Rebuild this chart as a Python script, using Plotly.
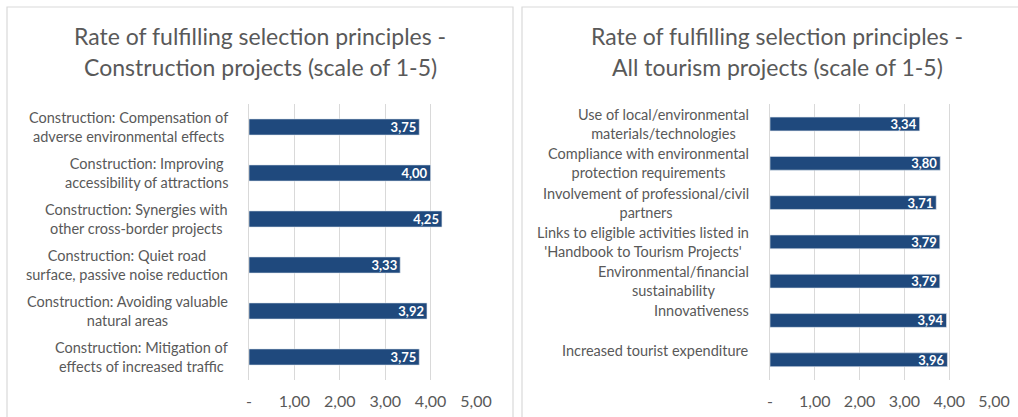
import plotly.graph_objects as go

W, H = 1018, 417

# Left chart: construction projects
construction_labels = [
    "Construction: Compensation of<br>adverse environmental effects",
    "Construction: Improving<br>accessibility of attractions",
    "Construction: Synergies with<br>other cross-border projects",
    "Construction: Quiet road<br>surface, passive noise reduction",
    "Construction: Avoiding valuable<br>natural areas",
    "Construction: Mitigation of<br>effects of increased traffic",
]
construction_values = [3.75, 4.00, 4.25, 3.33, 3.92, 3.75]

# Right chart: all tourism projects
tourism_labels = [
    "Use of local/environmental<br>materials/technologies",
    "Compliance with environmental<br>protection requirements",
    "Involvement of professional/civil<br>partners",
    "Links to eligible activities listed in<br>'Handbook to Tourism Projects'",
    "Environmental/financial<br>sustainability",
    "Innovativeness",
    "Increased tourist expenditure",
]
tourism_values = [3.34, 3.80, 3.71, 3.79, 3.79, 3.94, 3.96]

tick_values = [0, 1, 2, 3, 4, 5]
tick_labels = ["-", "1,00", "2,00", "3,00", "4,00", "5,00"]

title_left = ["Rate of fulfilling selection principles -",
              "Construction projects (scale of 1-5)"]
title_right = ["Rate of fulfilling selection principles -",
               "All tourism projects (scale of 1-5)"]

BAR = "#1f497d"
GRID = "#d9d9d9"
TXT = "#595959"
FONT = "Lato"
LABEL_SIZE = 14.5
LINE_H = 19.5


def px_x(p):
    return p / W


def px_y(p):
    return 1 - p / H


fig = go.Figure()

panels = [
    (construction_values, construction_labels, "x", "y", 249, 476),
    (tourism_values, tourism_labels, "x2", "y2", 770, 994),
]

for vals, labs, xa, ya, x_start, x_end in panels:
    fig.add_trace(go.Bar(
        x=vals, y=labs, orientation="h", xaxis=xa, yaxis=ya,
        marker=dict(color=BAR, line=dict(color="#dfe6ef", width=0.6)),
        texttemplate="<b>%{x:.2f}</b>", textposition="inside",
        insidetextanchor="end", constraintext="none",
        textfont=dict(family=FONT, size=13, color="white"),
        showlegend=False, hoverinfo="skip",
    ))
    # Category labels: centred lines, block right-aligned next to the axis;
    # one-line labels sit at the first-line position of a two-line block.
    for lab in labs:
        n_lines = lab.count("<br>") + 1
        fig.add_annotation(
            text=lab, xref="paper", yref=ya, x=px_x(x_start - 19), y=lab,
            xanchor="right", yanchor="middle", align="center",
            yshift=(LINE_H / 2 if n_lines == 1 else 0),
            showarrow=False, font=dict(family=FONT, size=LABEL_SIZE, color=TXT),
        )

plot_top, plot_bot = 104, 380
axis_common = dict(
    range=[0, 5], tickvals=tick_values, ticktext=tick_labels,
    showgrid=True, gridcolor=GRID, gridwidth=1,
    zeroline=False, showline=False, ticks="", automargin=False,
    tickfont=dict(family=FONT, size=16, color=TXT),
    ticklabelstandoff=10, fixedrange=True,
)
yaxis_common = dict(
    autorange="reversed", showgrid=False, zeroline=False,
    showline=True, linecolor=GRID, linewidth=1, ticks="",
    showticklabels=False, automargin=False, fixedrange=True,
    domain=[px_y(plot_bot), px_y(plot_top)],
)

fig.update_layout(
    width=W, height=H,
    margin=dict(l=0, r=0, t=0, b=0, autoexpand=False),
    paper_bgcolor="white", plot_bgcolor="white",
    bargap=0.65,
    separators=", ",
    xaxis=dict(domain=[px_x(249), px_x(476)], anchor="y", **axis_common),
    yaxis=dict(anchor="x", **yaxis_common),
    xaxis2=dict(domain=[px_x(770), px_x(994)], anchor="y2", **axis_common),
    yaxis2=dict(anchor="x2", **yaxis_common),
)

# Panel frames
for x0, x1 in [(7, 513), (522, 1033)]:
    fig.add_shape(type="rect", xref="paper", yref="paper",
                  x0=px_x(x0), x1=px_x(x1), y0=-0.2, y1=px_y(7),
                  line=dict(color=GRID, width=1.2), fillcolor="rgba(0,0,0,0)",
                  layer="below")

# Chart titles, one annotation per line
for lines, cx in [(title_left, 260), (title_right, 777)]:
    for i, line in enumerate(lines):
        fig.add_annotation(
            text=line, xref="paper", yref="paper",
            x=px_x(cx), y=px_y(36 + 31 * i), xanchor="center", yanchor="middle",
            showarrow=False, font=dict(family=FONT, size=23, color=TXT),
        )

fig.write_html("out.html")
